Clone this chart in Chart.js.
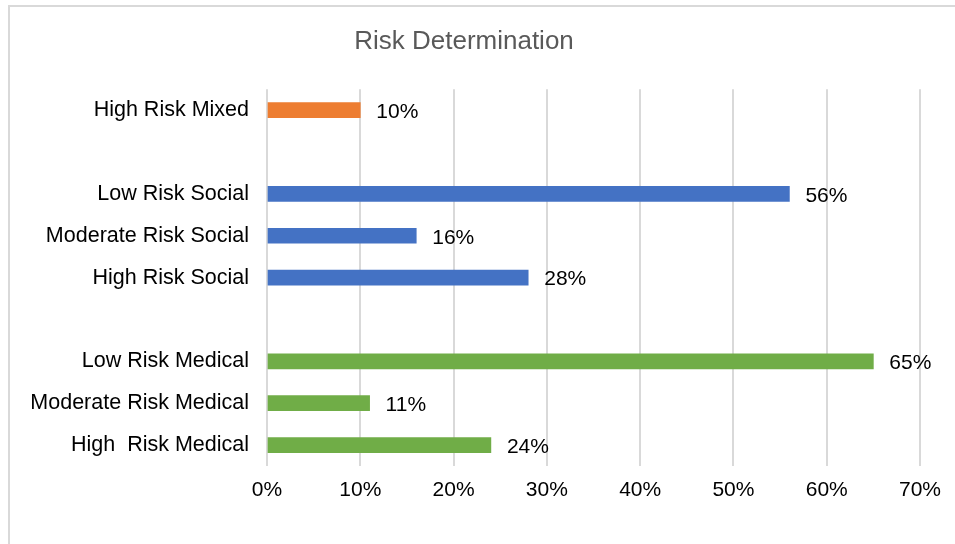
<!DOCTYPE html>
<html>
<head>
<meta charset="utf-8">
<script src="https://cdn.jsdelivr.net/npm/chart.js@4"></script>
<style>
  html, body { margin: 0; padding: 0; background: #fff; overflow: hidden; }
  #wrap { position: relative; width: 955px; height: 544px; }
  #frame { position: absolute; left: 8px; top: 5px; width: 1000px; height: 600px;
           border-left: 2px solid #d9d9d9; border-top: 2px solid #d9d9d9; }
  #chart { position: absolute; left: 0; top: 0; }
</style>
</head>
<body>
<div id="wrap">
  <div id="frame"></div>
  <canvas id="chart" width="955" height="544"></canvas>
</div>
<script>
// Категорії зверху вниз; порожні рядки — розриви між групами
const categories = [
  "High Risk Mixed", "",
  "Low Risk Social", "Moderate Risk Social", "High Risk Social", "",
  "Low Risk Medical", "Moderate Risk Medical", "High  Risk Medical"
];
const values = [10, null, 56, 16, 28, null, 65, 11, 24];
const groups = ["mixed", null, "social", "social", "social", null, "medical", "medical", "medical"];
const xTicks = [0, 10, 20, 30, 40, 50, 60, 70];

const GROUP_COLORS = { mixed: "#ED7D31", social: "#4472C4", medical: "#70AD47" };
const FONT = "'Liberation Sans', Arial, sans-serif";

// підписи значень праворуч від смуг
const valueLabels = {
  id: "valueLabels",
  afterDatasetsDraw(chart) {
    const ctx = chart.ctx;
    const meta = chart.getDatasetMeta(0);
    ctx.save();
    ctx.font = "21px " + FONT;
    ctx.fillStyle = "#000";
    ctx.textAlign = "left";
    ctx.textBaseline = "middle";
    meta.data.forEach((bar, i) => {
      const v = values[i];
      if (v == null) return;
      ctx.fillText(v + "%", bar.x + 16, bar.y + 2);
    });
    ctx.restore();
  }
};

new Chart(document.getElementById("chart"), {
  type: "bar",
  data: {
    labels: categories,
    datasets: [{
      data: values,
      backgroundColor: groups.map(g => g ? GROUP_COLORS[g] : "transparent"),
      barThickness: 15
    }]
  },
  options: {
    indexAxis: "y",
    responsive: false,
    animation: false,
    layout: { padding: { left: 8, right: 35, top: 0, bottom: 0 } },
    plugins: {
      legend: { display: false },
      tooltip: { enabled: false },
      title: {
        display: true,
        text: "Risk Determination",
        color: "#595959",
        font: { family: FONT, size: 26, weight: "normal" },
        padding: { top: 26, bottom: 32 }
      }
    },
    scales: {
      x: {
        min: 0,
        max: 70,
        afterBuildTicks: scale => { scale.ticks = xTicks.map(v => ({ value: v })); },
        afterFit: scale => { scale.height = 78; },
        grid: { color: "#d9d9d9", lineWidth: 2, drawTicks: false },
        border: { display: false },
        ticks: {
          padding: 12,
          color: "#000",
          font: { family: FONT, size: 21 },
          callback: v => v + "%"
        }
      },
      y: {
        afterFit: scale => { scale.width = 259; },
        grid: { display: false, drawTicks: false },
        border: { display: false },
        ticks: {
          padding: 18,
          color: "#000",
          font: { family: FONT, size: 21.5 },
          autoSkip: false
        }
      }
    }
  },
  plugins: [valueLabels]
});
</script>
</body>
</html>
